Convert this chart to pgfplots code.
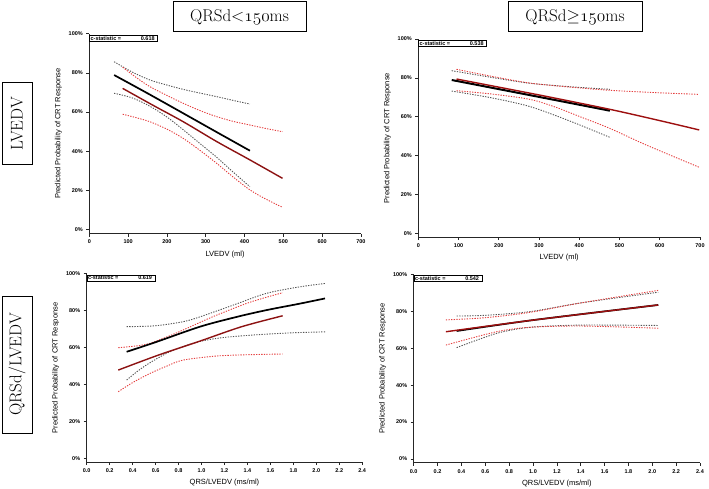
\documentclass[border=0pt]{standalone}
\usepackage{fontspec}
\usepackage{pgfplots}
\pgfplotsset{compat=1.18}
\newfontfamily\sans{Liberation Sans}
\definecolor{rdash}{RGB}{228,62,62}
\definecolor{gdash}{RGB}{85,85,85}
\definecolor{dred}{RGB}{140,18,18}
\pgfplotsset{
  panel/.style={scale only axis, anchor=south west,
    axis lines=left, axis line style={-, line width=0.8pt, black!85},
    tick align=outside, major tick length=3pt,
    tick style={black!85, line width=0.6pt},
    ymin=-2, ymax=100, ytick={0,20,40,60,80,100},
    yticklabels={0\%,20\%,40\%,60\%,80\%,100\%},
    ticklabel style={font=\sans\bfseries\fontsize{5.5}{6}\selectfont},
    ylabel={Predicted Probability of CRT Response},
    label style={font=\sans\fontsize{7.5}{8}\selectfont},
    clip=false},
  lvedv/.style={xmin=0, xmax=700, xtick={0,100,200,300,400,500,600,700},
    xticklabels={0,100,200,300,400,500,600,700}, xlabel={LVEDV (ml)}},
  ratio/.style={xmin=0, xmax=2.4, xtick={0,0.2,0.4,0.6,0.8,1.0,1.2,1.4,1.6,1.8,2.0,2.2,2.4},
    xticklabels={0.0,0.2,0.4,0.6,0.8,1.0,1.2,1.4,1.6,1.8,2.0,2.2,2.4}, xlabel={QRS/LVEDV (ms/ml)}},
  gd/.style={draw=gdash, dash pattern=on 1.3pt off 1.3pt, line width=0.9pt, no marks, smooth, tension=0.5},
  rd/.style={draw=rdash, dash pattern=on 1.3pt off 1.3pt, line width=0.9pt, no marks, smooth, tension=0.5},
  bs/.style={draw=black, line width=1.7pt, no marks, smooth, tension=0.5},
  rs/.style={draw=dred, line width=1.4pt, no marks, smooth, tension=0.5},
}
\newcommand{\cstat}[1]{\node[draw, line width=0.7pt, anchor=north west, inner sep=1pt, font=\sans\bfseries\fontsize{5.5}{6}\selectfont] at (rel axis cs:0,0.995) {\makebox[66pt][l]{c-statistic =\hfill #1\hspace{2pt}}};}
\begin{document}
\begin{tikzpicture}
\useasboundingbox (0,0) rectangle (709pt,488pt);
% titles
\node[draw, line width=1pt, minimum width=133pt, minimum height=30pt, inner sep=0pt, font=\fontsize{17}{20}\selectfont] at (239.5pt,471pt) {QRSd$\mathord{<}\mathnormal{150}$ms};
\node[draw, line width=1pt, minimum width=134pt, minimum height=30pt, inner sep=0pt, font=\fontsize{17}{20}\selectfont] at (575pt,471pt) {QRSd$\mathord{\geq}\mathnormal{150}$ms};
\node[draw, line width=1pt, rotate=90, minimum width=82pt, minimum height=30pt, inner sep=0pt, font=\fontsize{17}{20}\selectfont] at (17pt,364pt) {LVEDV};
\node[draw, line width=1pt, rotate=90, minimum width=137pt, minimum height=30pt, inner sep=0pt, font=\fontsize{17}{20}\selectfont] at (17pt,123.5pt) {QRSd/LVEDV};

% Panel 1
\begin{axis}[panel, lvedv, at={(89.3pt,254.4pt)}, width=271.6pt, height=199.9pt]
\addplot[gd] coordinates {(64,85.7) (110,80.5) (156,76.4) (200,73.8) (242,71.6) (285,69.7) (328,67.9) (370,66) (414,64.1)};
\addplot[gd] coordinates {(64,69.6) (110,67.3) (156,63.0) (200,57.5) (242,51) (285,44) (328,37) (370,29.5) (414,21.9)};
\addplot[rd] coordinates {(86,82.9) (120,77.8) (156,73) (200,68.5) (242,64.5) (285,60.8) (328,57.7) (370,55.3) (414,53.4) (456,51.6) (498,50)};
\addplot[rd] coordinates {(86,58.9) (120,57.2) (156,55.1) (200,51.3) (242,46.6) (285,40.5) (328,33.9) (370,27) (414,20.3) (456,15.5) (498,11.4)};
\addplot[bs] coordinates {(64,78.9) (150,69.6) (242,59.4) (330,49.6) (414,40.3)};
\addplot[rs] coordinates {(86,72.1) (164,63.5) (242,55.1) (328,45) (414,35.6) (498,26.2)};
\cstat{0.618}
\end{axis}

% Panel 2
\begin{axis}[panel, lvedv, at={(418.3pt,250.8pt)}, width=281.7pt, height=198.2pt]
\addplot[gd] coordinates {(83,83.7) (180,80.3) (278,77.2) (380,75.4) (476,74.1)};
\addplot[gd] coordinates {(83,73.2) (180,69.8) (278,65.2) (380,57.5) (476,49.4)};
\addplot[rd] coordinates {(95,84.4) (190,80.5) (278,77.3) (380,75.2) (476,73.6) (590,72.4) (698,71.5)};
\addplot[rd] coordinates {(95,73.4) (190,71.5) (278,68.9) (340,65) (402,60) (476,54) (567,45.4) (698,34)};
\addplot[bs, line width=2pt] coordinates {(83,78.9) (280,71) (476,63.1)};
\addplot[rs, draw=dred!85!red] coordinates {(95,79.4) (300,71.2) (476,63.8) (600,58) (698,53.2)};
\cstat{0.538}
\end{axis}

% Panel 3
\begin{axis}[panel, ratio, at={(86.7pt,26pt)}, width=275.5pt, height=188.3pt]
\addplot[gd] coordinates {(0.348,71.3) (0.6,71.8) (0.84,74) (0.99,76.7) (1.277,83) (1.568,89.4) (1.859,92.9) (2.076,94.7)};
\addplot[gd] coordinates {(0.348,42.4) (0.45,47.5) (0.552,51.8) (0.7,57) (0.85,60.8) (1.0,63.5) (1.2,65.5) (1.5,67) (1.8,68) (2.076,68.5)};
\addplot[rd] coordinates {(0.275,59.9) (0.45,61) (0.552,62.3) (0.7,65.8) (0.84,69.5) (1.0,74) (1.13,77.5) (1.42,84.5) (1.707,89.7)};
\addplot[rd] coordinates {(0.275,36.1) (0.4,41) (0.552,46) (0.7,50) (0.84,53.2) (1.13,55.4) (1.4,56.1) (1.707,56.5)};
\addplot[bs] coordinates {(0.348,57.7) (0.6,62.9) (0.987,71.3) (1.3,76.5) (1.568,80.3) (1.85,83.7) (2.076,86.6)};
\addplot[rs] coordinates {(0.275,47.8) (0.624,55.9) (0.987,63.5) (1.35,71.3) (1.707,77.2)};
\cstat{0.619}
\end{axis}

% Panel 4
\begin{axis}[panel, ratio, at={(413.7pt,25.3pt)}, width=286.3pt, height=188.4pt]
\addplot[gd] coordinates {(0.36,77.4) (0.6,77.8) (0.975,79.8) (1.4,84.5) (2.05,90.3)};
\addplot[gd] coordinates {(0.36,60.3) (0.695,68) (0.975,71.3) (1.394,72.5) (2.05,72.3)};
\addplot[rd] coordinates {(0.27,75.3) (0.6,76.5) (0.975,79.4) (1.4,84.5) (2.05,91.3)};
\addplot[rd] coordinates {(0.27,61.7) (0.695,68.9) (0.975,71.3) (1.4,72) (2.05,70.8)};
\addplot[bs] coordinates {(0.36,69.3) (1.0,75.2) (2.05,83.4)};
\addplot[rs, draw=dred!85!red] coordinates {(0.27,68.9) (1.0,75.2) (2.05,83.4)};
\cstat{0.542}
\end{axis}
\end{tikzpicture}
\end{document}
